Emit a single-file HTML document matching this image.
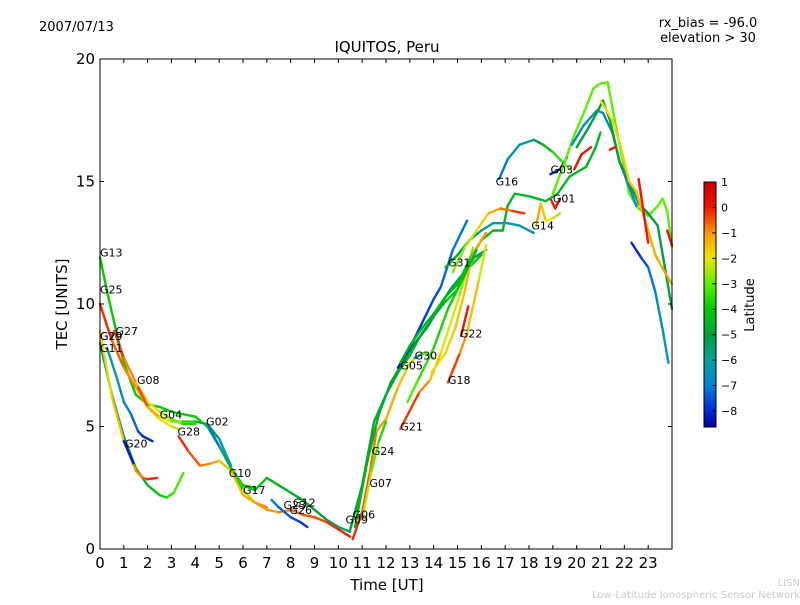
<!DOCTYPE html>
<html><head><meta charset="utf-8"><style>
body{margin:0;background:#fff;width:800px;height:600px;overflow:hidden}
text{font-family:"DejaVu Sans","Liberation Sans",sans-serif}
</style></head><body>
<svg id="c" width="800" height="600" xmlns="http://www.w3.org/2000/svg">
<text x="39" y="31" font-size="13">2007/07/13</text>
<text x="708" y="27" font-size="13" text-anchor="middle">rx_bias = -96.0</text>
<text x="708" y="42" font-size="13" text-anchor="middle">elevation &gt; 30</text>
<text x="387" y="52" font-size="15" text-anchor="middle">IQUITOS, Peru</text>
<text x="387" y="590" font-size="15" text-anchor="middle">Time [UT]</text>
<text x="67" y="304" font-size="15" text-anchor="middle" transform="rotate(-90 67 304)">TEC [UNITS]</text>
<text x="754" y="305" font-size="13" text-anchor="middle" transform="rotate(-90 754 305)">Latitude</text>
<text x="800" y="586" font-size="10" fill="#c8c8c8" text-anchor="end">LISN</text>
<text x="800" y="598" font-size="10" fill="#c8c8c8" text-anchor="end">Low-Latitude Ionospheric Sensor Network</text>
<g id="marks"></g>
<g id="axes"></g>
</svg>
<script>
const xTicks=[0,1,2,3,4,5,6,7,8,9,10,11,12,13,14,15,16,17,18,19,20,21,22,23];
const yTicks=[0,5,10,15,20];
const cbTicks=[1,0,-1,-2,-3,-4,-5,-6,-7,-8];
const trackNames=["G13","G25","G11","G20a","G27","G20b","G20","G08","G28","G02","G17","G10","G26","G06","G24","G05","G31","G16","G03","G01","G14","G22","G18","G21","G30","G07",
"R2","R4","R5","R6","R7","R8","R9","R10","R11a","R11b","R11c","R11d","R13","G22b","G21b"];
const trackLat=[[-4,-4],[0,-2.5],[-6,-3],[-2,0],[0,-4],[-6,-8.2],[-8,-8.3],[0,-6.5],[0,-2],[-8,0],[-4,-5.5],[-1.5,0],[-7,-8],[0,-2],[-5,-4],[-4.5,-5.5],[-8.3,-7],[-7.5,-2.5],[-8,-8],[0,0],[-6,-6.5],[0,0],[0,-2.5],[0,-3],[-8,-1],[-2,-4],
[-4.5,-4.5],[-4.5,-6.5],[-3,0],[-3,-3],[-6.5,-7],[-8.3,-6],[-5,-5],[-2,-1],[0,0],[0,0],[0,0],[0,0],[-1,-2.5],[-2,-1],[-3,-4.5]];
const trackPts=[
[[0,11.9],[0.3,10.5],[0.7,8.8],[1,7.6],[1.5,6.3],[2,5.9],[2.5,5.8],[3,5.6],[3.5,5.5],[4,5.4],[4.5,5.0],[5,4.2],[5.5,3.3],[6,2.6],[6.5,2.5]],
[[0,10.0],[0.5,8.5],[1,7.4],[1.5,6.6],[2,5.8],[2.5,5.3],[3,5.0],[3.3,4.9]],
[[0,8.4],[0.5,6.3],[1,4.6],[1.5,3.3],[2,2.6],[2.5,2.2],[2.8,2.1],[3.1,2.3],[3.5,3.1]],
[[0,8.9],[0.5,6.2],[1,4.4],[1.5,3.2],[1.8,2.9],[2,2.85],[2.4,2.9]],
[[0.6,8.9],[1,7.8],[1.5,6.8],[2,6.0],[2.5,5.6],[3,5.3],[3.5,5.1],[4,5.1]],
[[0.3,8.2],[0.7,7.0],[1,6.0],[1.3,5.5],[1.6,4.8],[1.8,4.6],[2.2,4.4]],
[[1.0,4.4],[1.4,3.5]],
[[1.6,6.6],[2,5.8],[2.5,5.4],[3,5.2],[3.5,5.2],[4,5.2],[4.5,5.1],[5,4.5],[5.5,3.4]],
[[3.3,4.6],[3.7,4.0],[4.2,3.4],[4.7,3.5],[5,3.6],[5.5,3.2],[6,2.5]],
[[4.5,5.1],[5,4.2],[5.5,3.3],[6,2.4],[6.5,1.9],[7,1.7]],
[[6,2.6],[6.5,2.4],[7,2.9],[7.5,2.6],[8,2.3],[8.5,2.0],[9,1.6],[9.5,1.2],[10,0.9],[10.5,0.7]],
[[5.5,3.2],[6,2.2],[6.5,1.9],[7,1.6],[7.5,1.5],[8,1.6],[8.5,1.4],[9,1.3],[9.5,1.1],[10,0.8],[10.5,0.5]],
[[7.2,2.0],[7.5,1.7],[8,1.3],[8.4,1.1],[8.7,0.9]],
[[10.6,0.4],[11,1.5],[11.3,3.0],[11.6,4.8],[12,5.3],[12.5,6.6],[13,7.6],[13.5,8.0]],
[[10.5,0.8],[11,2.6],[11.5,5.2],[12,6.3],[12.5,7.2],[13,7.9],[13.5,8.8],[14,9.5],[14.5,10.1],[15,10.6],[15.5,11.5],[16,12.0]],
[[10.7,0.9],[11.2,3.5],[11.7,5.5],[12.2,6.8],[12.7,7.6],[13.2,8.4],[13.7,9.0],[14.2,9.8],[14.7,10.6],[15.2,11.2],[15.7,11.9],[16.2,12.2]],
[[12.5,7.4],[13,8.2],[13.5,9.2],[14,10.2],[14.3,10.7],[14.8,12.2],[15.4,13.4]],
[[16.75,15.1],[17.1,15.9],[17.6,16.5],[18.2,16.7],[18.6,16.5],[19,16.2],[19.4,15.8],[19.7,15.5]],
[[18.9,15.3],[19.3,15.5],[19.6,16.0]],
[[18.9,14.3],[19.1,13.9],[19.3,14.3]],
[[17.1,13.3],[17.6,13.2],[18.2,12.9]],
[[15.15,8.7],[15.45,9.9]],
[[14.6,6.8],[15.1,8.0],[15.4,8.8],[15.9,11.0],[16.2,12.4]],
[[12.6,4.9],[13.4,6.4],[13.85,6.9],[14.3,8.0],[15.1,10.4],[15.65,12.3]],
[[13.2,7.8],[13.6,8.0],[14,7.8]],
[[11.0,1.2],[11.4,3.2],[11.7,4.4],[12,5.2]],
[[12.6,7.6],[13,8.3],[13.5,9.0],[14,9.6],[14.5,10.3],[15,10.8],[15.5,11.8],[16,12.6],[16.5,13.0],[16.9,13.0],[17.1,14.0],[17.4,14.5],[18,14.4],[18.7,14.2],[19.2,14.5],[19.7,15.2],[20.4,15.6],[20.8,16.4],[21.0,17.0]],
[[14.5,11.5],[15,12.0],[15.5,12.6],[16,13.0],[16.5,13.3],[17.1,13.3]],
[[14.8,11.3],[15.3,12.3],[15.8,13.0],[16.3,13.7],[16.8,13.9],[17.3,13.8],[17.8,13.7]],
[[19.0,14.5],[19.5,15.8],[19.9,16.9],[20.3,17.8],[20.7,18.8],[21.0,19.0],[21.3,19.05],[21.5,18.0],[21.8,16.5],[22.2,14.5],[22.6,13.9],[23.0,13.6],[23.4,14.0],[23.6,14.3],[23.8,13.8],[24,12.3]],
[[19.8,16.5],[20.3,17.3],[20.85,17.9],[21.1,17.8],[21.5,17.0],[21.8,15.8],[22.2,14.8],[22.5,14.0]],
[[22.3,12.5],[22.7,11.9],[23,11.5],[23.3,10.5],[23.6,9.0],[23.85,7.6]],
[[20.0,16.4],[20.5,17.2],[20.9,17.9],[21.1,18.3],[21.4,17.5],[21.8,15.8],[22.2,15.0],[22.6,14.1],[23.0,13.7],[23.4,13.2],[23.7,11.5],[24,9.8]],
[[21.0,18.3],[21.5,17.5],[21.8,16.6],[22.2,15.0],[22.5,14.6],[23,13.0],[23.3,12.0],[23.7,11.3],[24,10.8]],
[[19.9,15.5],[20.2,16.1],[20.6,16.4]],
[[21.4,16.3],[21.6,16.4]],
[[22.6,15.1],[23.0,12.5]],
[[23.8,13.0],[24,12.4]],
[[18.3,13.2],[18.5,14.1],[18.7,13.4],[19.0,13.5],[19.3,13.7]],
[[13.9,7.2],[14.5,8.0],[14.9,9.0],[15.3,10.5],[15.6,11.9],[16,12.6],[16.2,12.9]],
[[12.9,6.0],[13.4,7.0],[14,8.2],[14.6,9.8],[15.2,11.0],[15.8,12.2]]
];
const labelNames=["G13","G25","G29","G19","G27","G11","G08","G04","G02","G20","G28","G10","G17","G23","G12","G26","G09","G06","G07","G24","G21","G05","G30","G18","G22","G31","G16","G03","G01","G14"];
const labelPos=[[0,12.1],[0,10.6],[0,8.7],[0,8.7],[0.65,8.9],[0,8.2],[1.55,6.9],[2.5,5.5],[4.45,5.2],[1.05,4.3],[3.25,4.8],[5.4,3.1],[6.0,2.4],[7.7,1.8],[8.1,1.9],[7.95,1.6],[10.3,1.2],[10.6,1.4],[11.3,2.7],[11.4,4.0],[12.6,5.0],[12.6,7.5],[13.2,7.9],[14.6,6.9],[15.1,8.8],[14.6,11.7],[16.6,15.0],[18.9,15.5],[19.0,14.3],[18.1,13.2]];

const X0=100,X1=672,Y0=549,Y1=59;
const xs=h=>X0+(h/24)*(X1-X0);
const ys=v=>Y0-(v/20)*(Y0-Y1);
const CB0=-8.63,CB1=1,CBT=182,CBB=427;
const cby=l=>CBB-(l-CB0)/(CB1-CB0)*(CBB-CBT);
const stops=[[1,[200,0,0]],[0,[240,20,0]],[-1,[255,150,0]],[-2,[235,230,0]],[-3,[90,240,0]],[-4,[0,205,0]],[-5,[0,160,60]],[-6,[0,160,160]],[-7,[0,130,220]],[-8,[0,40,215]],[-8.63,[0,0,150]]];
function jet(l){
 if(l>=stops[0][0])return `rgb(${stops[0][1]})`;
 for(let i=0;i<stops.length-1;i++){const [a,ca]=stops[i],[b,cb]=stops[i+1];
  if(l<=a&&l>=b){const f=(a-l)/(a-b);return `rgb(${ca.map((v,k)=>Math.round(v+(cb[k]-v)*f)).join(',')})`;}}
 return `rgb(${stops[stops.length-1][1]})`;}
const NS="http://www.w3.org/2000/svg";
const marks=document.getElementById('marks'),axes=document.getElementById('axes');
function mk(tag,attrs,parent){const e=document.createElementNS(NS,tag);for(const k in attrs)e.setAttribute(k,attrs[k]);parent.appendChild(e);return e;}

trackPts.forEach((pts,i)=>{
 const g=mk('g',{},marks);
 
 
 const [la,lb]=trackLat[i];
 for(let j=0;j<pts.length-1;j++){
  const f=(j+0.5)/(pts.length-1);
  const s=mk('line',{x1:xs(pts[j][0]),y1:ys(pts[j][1]),x2:xs(pts[j+1][0]),y2:ys(pts[j+1][1]),stroke:jet(la+(lb-la)*f),'stroke-width':2.4,'stroke-linecap':'round'},g);
  
  
 }
});
labelNames.forEach((n,i)=>{
 const t=mk('text',{x:xs(labelPos[i][0]),y:ys(labelPos[i][1])+4,'font-size':11},marks);
 t.textContent=n;
 
 
});
const frame=mk('rect',{x:X0,y:Y1,width:X1-X0,height:Y0-Y1,fill:'none',stroke:'#000','stroke-width':1},axes);


xTicks.forEach(v=>{
 const x=xs(v);
 mk('line',{x1:x,y1:Y0,x2:x,y2:Y0-4,stroke:'#000'},axes);
 mk('line',{x1:x,y1:Y1,x2:x,y2:Y1+4,stroke:'#000'},axes);
 const t=mk('text',{x:x,y:Y0+19,'font-size':15,'text-anchor':'middle'},axes);
 t.textContent=v;
 
 
});
yTicks.forEach(v=>{
 const y=ys(v);
 mk('line',{x1:X0,y1:y,x2:X0+4,y2:y,stroke:'#000'},axes);
 mk('line',{x1:X1,y1:y,x2:X1-4,y2:y,stroke:'#000'},axes);
 const t=mk('text',{x:X0-5,y:y+5,'font-size':15,'text-anchor':'end'},axes);
 t.textContent=v;
 
 
});
const cb=mk('g',{},axes);


for(let y=CBT;y<CBB;y++){
 const l=CB1-(y-CBT+0.5)/(CBB-CBT)*(CB1-CB0);
 mk('rect',{x:704,y:y,width:12,height:1.2,fill:jet(l)},cb);
}
mk('rect',{x:704,y:CBT,width:12,height:CBB-CBT,fill:'none',stroke:'#000'},cb);
cbTicks.forEach(v=>{
 const y=cby(v);
 mk('line',{x1:712,y1:y,x2:716,y2:y,stroke:'#000'},cb);
 const t=mk('text',{x:721,y:y+4,'font-size':11},cb);
 t.textContent=v<0?'\u2212'+(-v):v;
 
 
});
</script>
</body></html>
